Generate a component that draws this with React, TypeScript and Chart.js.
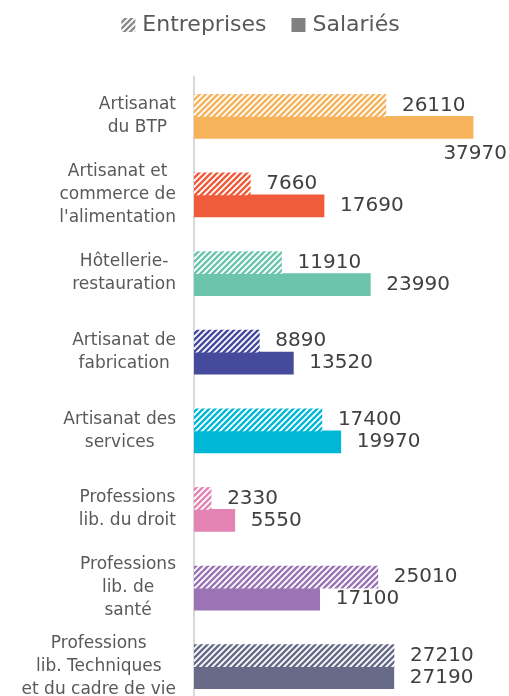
import React, { useEffect, useRef } from "react";
import { Chart, registerables } from "chart.js";

Chart.register(...registerables);

const categories: string[][] = [
  ["Artisanat", "du BTP"],
  ["Artisanat et", "commerce de", "l'alimentation"],
  ["Hôtellerie-", "restauration"],
  ["Artisanat de", "fabrication"],
  ["Artisanat des", "services"],
  ["Professions", "lib. du droit"],
  ["Professions", "lib. de", "santé"],
  ["Professions", "lib. Techniques", "et du cadre de vie"],
];
const entreprises: number[] = [26110, 7660, 11910, 8890, 17400, 2330, 25010, 27210];
const salaries: number[] = [37970, 17690, 23990, 13520, 19970, 5550, 17100, 27190];
const seriesNames: string[] = ["Entreprises", "Salariés"];
const categoryColors: string[] = [
  "#F6B35C",
  "#EF5B3B",
  "#6CC4AC",
  "#464A9C",
  "#00B7D6",
  "#E384B5",
  "#9A74B5",
  "#676B88",
];
const legendColor = "#808080";
const FONT = "'DejaVu Sans', sans-serif";

function hatch(color: string): CanvasPattern | string {
  const s = 6;
  const c = document.createElement("canvas");
  c.width = s;
  c.height = s;
  const g = c.getContext("2d");
  if (!g) return color;
  g.fillStyle = "#ffffff";
  g.fillRect(0, 0, s, s);
  g.strokeStyle = color;
  g.lineWidth = 2.4;
  g.beginPath();
  g.moveTo(-1, s + 1);
  g.lineTo(s + 1, -1);
  g.moveTo(-1, 1);
  g.lineTo(1, -1);
  g.moveTo(s - 1, s + 1);
  g.lineTo(s + 1, s - 1);
  g.stroke();
  return g.createPattern(c, "repeat") || color;
}

const overlayPlugin = {
  id: "overlay",
  afterDraw(chart: any) {
    const ctx: CanvasRenderingContext2D = chart.ctx;
    ctx.save();

    // Category labels (multi-line, centered within their own block, block right-aligned)
    const yScale = chart.scales.y;
    ctx.font = `17px ${FONT}`;
    ctx.fillStyle = "#595959";
    ctx.textAlign = "center";
    ctx.textBaseline = "middle";
    const R = 176;
    const lh = 23;
    categories.forEach((lines, i) => {
      const yc = yScale.getPixelForValue(i);
      const widest = Math.max(...lines.map((l) => ctx.measureText(l).width));
      const cx = R - widest / 2;
      lines.forEach((l, j) => {
        ctx.fillText(l, cx, yc + (j - (lines.length - 1) / 2) * lh);
      });
    });

    // Data labels
    ctx.font = `20px ${FONT}`;
    ctx.fillStyle = "#404040";
    ctx.textAlign = "left";
    chart.data.datasets.forEach((ds: any, di: number) => {
      const meta = chart.getDatasetMeta(di);
      meta.data.forEach((el: any, i: number) => {
        const txt = String(ds.data[i]);
        const w = ctx.measureText(txt).width;
        let x = el.x + 16;
        let y = el.y;
        if (x + w > chart.width - 2) {
          x = chart.width - 2 - w;
          y = el.y + el.height / 2 + 15;
        }
        ctx.fillText(txt, x, y);
      });
    });

    // Legend
    ctx.font = `22px ${FONT}`;
    const box = 14;
    const gapText = 7;
    const gapItem = 25;
    const widths = seriesNames.map((n) => ctx.measureText(n).width);
    const total =
      widths.reduce((a, b) => a + b, 0) + seriesNames.length * (box + gapText) + gapItem * (seriesNames.length - 1);
    let x = (chart.width - total) / 2 + 6;
    const yMid = 25;
    seriesNames.forEach((n, k) => {
      ctx.fillStyle = k === 0 ? (hatch("#8c8c8c") as any) : legendColor;
      ctx.fillRect(x, yMid - box / 2, box, box);
      x += box + gapText;
      ctx.fillStyle = "#595959";
      ctx.textAlign = "left";
      ctx.fillText(n, x, yMid);
      x += widths[k] + gapItem;
    });

    ctx.restore();
  },
};

export default function App() {
  const ref = useRef<HTMLCanvasElement>(null);

  useEffect(() => {
    if (!ref.current) return;
    const chart = new Chart(ref.current, {
      type: "bar",
      data: {
        labels: categories.map((c) => c.join(" ")),
        datasets: [
          {
            label: seriesNames[0],
            data: entreprises,
            backgroundColor: categoryColors.map((c) => hatch(c)) as any,
            borderWidth: 0,
            barThickness: 22,
          },
          {
            label: seriesNames[1],
            data: salaries,
            backgroundColor: categoryColors,
            borderWidth: 0,
            barThickness: 22,
          },
        ],
      },
      options: {
        indexAxis: "y",
        responsive: false,
        animation: false,
        layout: { padding: { left: 194, right: 21, top: 77, bottom: 0 } },
        plugins: {
          legend: { display: false },
          tooltip: { enabled: false },
        },
        scales: {
          x: { display: false, min: 0, max: 40000 },
          y: {
            display: true,
            ticks: { display: false },
            grid: { display: false, drawTicks: false },
            border: { display: true, color: "#d9d9d9", width: 2 },
          },
        },
      },
      plugins: [overlayPlugin],
    });
    return () => chart.destroy();
  }, []);

  return (
    <div
      style={{
        position: "fixed",
        left: 0,
        top: 0,
        width: 509,
        height: 696,
        overflow: "hidden",
        background: "#ffffff",
      }}
    >
      <canvas ref={ref} width={509} height={706} style={{ display: "block" }} />
    </div>
  );
}
